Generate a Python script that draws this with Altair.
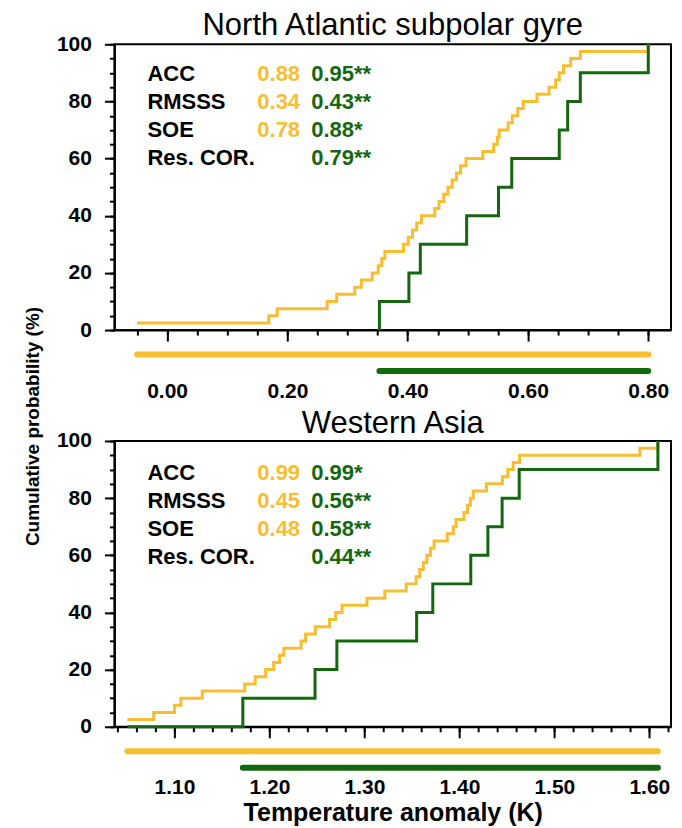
import altair as alt
import pandas as pd

YEL = "#F9BD30"
GRN = "#15670F"
FONT = "Liberation Sans"

# ---------------- data ----------------
panel_titles = ["North Atlantic subpolar gyre", "Western Asia"]

# North Atlantic subpolar gyre: sorted member values (K)
nasg_yellow = [-0.050, 0.169, 0.183, 0.266, 0.282, 0.312, 0.323, 0.341, 0.351, 0.357,
               0.362, 0.393, 0.401, 0.408, 0.415, 0.423, 0.445, 0.452, 0.460, 0.467,
               0.474, 0.481, 0.488, 0.497, 0.525, 0.543, 0.549, 0.552, 0.567, 0.574,
               0.583, 0.592, 0.615, 0.635, 0.646, 0.652, 0.659, 0.671, 0.687, 0.800]
nasg_green = [0.353, 0.402, 0.421, 0.498, 0.551, 0.573, 0.652, 0.666, 0.687, 0.800]
nasg_green_start = 0.353

# Western Asia
wa_yellow = [1.0505, 1.0782, 1.1000, 1.1068, 1.1293, 1.1740, 1.1850, 1.1960, 1.2044, 1.2107,
             1.2152, 1.2333, 1.2381, 1.2483, 1.2633, 1.2697, 1.2764, 1.3027, 1.3215, 1.3440,
             1.3545, 1.3583, 1.3620, 1.3658, 1.3695, 1.3733, 1.3872, 1.3935, 1.3965, 1.4048,
             1.4086, 1.4116, 1.4146, 1.4285, 1.4453, 1.4510, 1.4566, 1.4634, 1.5900, 1.6090]
wa_green = [1.172, 1.248, 1.271, 1.355, 1.372, 1.412, 1.430, 1.445, 1.463, 1.609]
wa_green_start = 1.0505

score_labels = ["ACC", "RMSSS", "SOE", "Res. COR."]
nasg_yel_scores = ["0.88", "0.34", "0.78", ""]
nasg_grn_scores = ["0.95**", "0.43**", "0.88*", "0.79**"]
wa_yel_scores = ["0.99", "0.45", "0.48", ""]
wa_grn_scores = ["0.99*", "0.56**", "0.58**", "0.44**"]

nasg_xdomain = [-0.0876, 0.8378]
nasg_major = [0.0, 0.2, 0.4, 0.6, 0.8]
nasg_minor = [round(-0.05 + 0.05 * i, 2) for i in range(18)]
wa_xdomain = [1.0368, 1.6228]
wa_major = [1.1, 1.2, 1.3, 1.4, 1.5, 1.6]
wa_minor = [round(1.04 + 0.02 * i, 2) for i in range(30)]
y_major = [0, 20, 40, 60, 80, 100]
y_minor = list(range(0, 101, 5))

W, H = 557, 286


def cdf_frame(vals, step, start=None):
    xs = list(vals)
    ps = [step * (i + 1) for i in range(len(vals))]
    if start is not None:
        xs = [start] + xs
        ps = [0.0] + ps
    return pd.DataFrame({"x": xs, "p": ps})


def panel(title, title_offset, yel, grn, grn_start, xdom, xmajor, xminor, yel_scores,
          grn_scores, text_top, y_title, x_title):
    xscale = alt.Scale(domain=xdom, nice=False, zero=False)
    yscale = alt.Scale(domain=[0, 100], nice=False)

    xmaj_kw = dict(values=xmajor, format=".2f", tickSize=11, labelPadding=39,
                   labelOverlap=False, labelFlush=False, orient="bottom")
    if x_title:
        xmaj_kw.update(title=x_title, titleX=W / 2, titleY=86,
                       titleAlign="center", titleBaseline="middle",
                       titleFontSize=25)
    else:
        xmaj_kw.update(title=None)
    ymaj_kw = dict(values=y_major, format="d", tickSize=10, labelPadding=13,
                   labelOverlap=False, labelFlush=False, orient="left")
    if y_title:
        ymaj_kw.update(title=y_title, titleX=-82, titleY=382, titleAngle=270,
                       titleAlign="center", titleBaseline="middle",
                       titleFontSize=19)
    else:
        ymaj_kw.update(title=None)

    x_minor_axis = alt.Axis(values=xminor, tickSize=5, labels=False, domain=False,
                            title=None, orient="bottom")
    y_minor_axis = alt.Axis(values=y_minor, tickSize=5, labels=False, domain=False,
                            title=None, orient="left")

    yl = alt.Chart(cdf_frame(yel, 2.5)).mark_line(
        interpolate="step-after", strokeWidth=3, color=YEL).encode(
        x=alt.X("x:Q", scale=xscale, axis=alt.Axis(**xmaj_kw)),
        y=alt.Y("p:Q", scale=yscale, axis=alt.Axis(**ymaj_kw)))
    gl = alt.Chart(cdf_frame(grn, 10.0, grn_start)).mark_line(
        interpolate="step-after", strokeWidth=3, color=GRN).encode(
        x=alt.X("x:Q", scale=xscale, axis=x_minor_axis),
        y=alt.Y("p:Q", scale=yscale, axis=y_minor_axis))

    ybar = alt.Chart(pd.DataFrame({"a": [min(yel)], "b": [max(yel)]})).mark_rule(
        strokeWidth=6, strokeCap="round", color=YEL).encode(
        x=alt.X("a:Q", scale=xscale, axis=None), x2="b:Q", y=alt.value(H + 24.5))
    gbar = alt.Chart(pd.DataFrame({"a": [min(grn)], "b": [max(grn)]})).mark_rule(
        strokeWidth=6, strokeCap="round", color=GRN).encode(
        x=alt.X("a:Q", scale=xscale, axis=None), x2="b:Q", y=alt.value(H + 41))

    def txt(lines, xpix, color):
        return alt.Chart(pd.DataFrame({"t": ["\n".join(lines)]})).mark_text(
            align="left", baseline="top", font=FONT, fontSize=22, fontWeight="bold",
            lineBreak="\n", lineHeight=28, color=color).encode(
            x=alt.value(xpix), y=alt.value(text_top), text="t:N")

    t1 = txt(score_labels, 33, "black")
    t2 = txt(yel_scores, 143, YEL)
    t3 = txt(grn_scores, 197, GRN)

    ttl = alt.Chart(pd.DataFrame({"t": [title]})).mark_text(
        align="center", baseline="alphabetic", font=FONT, fontSize=31,
        fontWeight="normal", color="black").encode(
        x=alt.value(W / 2), y=alt.value(-title_offset), text="t:N")

    return alt.layer(yl, gl, ybar, gbar, t1, t2, t3, ttl).resolve_axis(
        x="independent", y="independent").properties(width=W, height=H)


top = panel(panel_titles[0], 9.5, nasg_yellow, nasg_green, nasg_green_start,
            nasg_xdomain, nasg_major, nasg_minor,
            nasg_yel_scores, nasg_grn_scores, 20, "Cumulative probability (%)", None)
bottom = panel(panel_titles[1], 8, wa_yellow, wa_green, wa_green_start,
               wa_xdomain, wa_major, wa_minor,
               wa_yel_scores, wa_grn_scores, 22, None, "Temperature anomaly (K)")

chart = alt.vconcat(top, bottom, spacing=111, bounds="flush").properties(
    padding={"left": 14.5, "top": 0, "right": 2, "bottom": 0}
).configure_view(
    stroke="black", strokeWidth=2
).configure_axis(
    domainColor="black", domainWidth=2, tickColor="black", tickWidth=2,
    labelFont=FONT, labelFontWeight="bold", labelFontSize=21, labelColor="black",
    titleFont=FONT, titleFontWeight="bold", titleFontSize=24, titleColor="black",
    grid=False
)

chart.save("out.html", embed_options={"renderer": "svg", "actions": False})
